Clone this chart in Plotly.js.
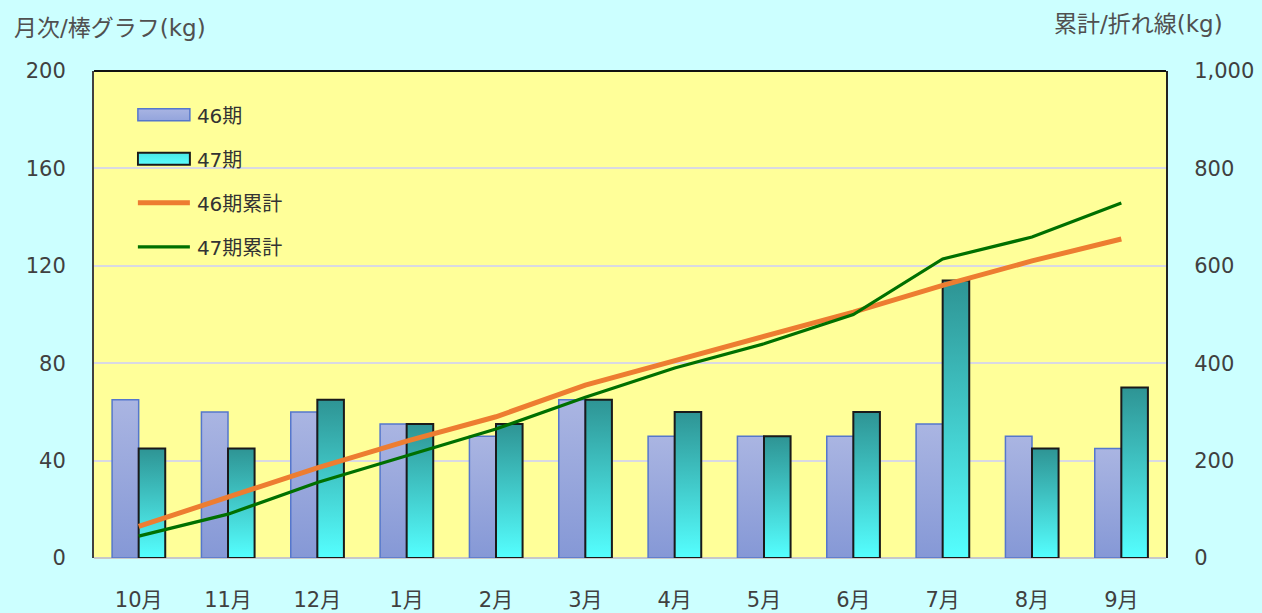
<!DOCTYPE html>
<html><head><meta charset="utf-8">
<script src="https://cdn.plot.ly/plotly-3.0.1.min.js"></script>
<style>html,body{margin:0;padding:0;background:#ccffff;} #chart{width:1262px;height:613px;}</style>
</head><body><div id="chart"></div>
<script>
const months = ['10月','11月','12月','1月','2月','3月','4月','5月','6月','7月','8月','9月'];
const monthly46 = [65,60,60,55,50,65,50,50,50,55,50,45];
const monthly47 = [45,45,65,55,55,65,60,50,60,114,45,70];
const cumulative46 = [65,125,185,240,290,355,405,455,505,560,610,655];
const cumulative47 = [45,90,155,210,265,330,390,440,500,614,659,729];
const seriesNames = ['46期','47期','46期累計','47期累計'];
const leftTitle = '月次/棒グラフ(kg)';
const rightTitle = '累計/折れ線(kg)';

const FONT = "'DejaVu Sans', 'Noto Sans CJK JP', sans-serif";

const data = [
  {type:'bar', name:seriesNames[0], x:months, y:monthly46, legendgroup:'a',
   marker:{color:'#9aa8dc', line:{color:'#5577cc', width:1.5}}},
  {type:'bar', name:seriesNames[1], x:months, y:monthly47, legendgroup:'b',
   marker:{color:'#44cccc', line:{color:'#1a1a1a', width:2}}},
  {type:'scatter', mode:'lines', name:seriesNames[2], x:months, y:cumulative46, yaxis:'y2', legendgroup:'c',
   line:{color:'#ed7d31', width:5}},
  {type:'scatter', mode:'lines', name:seriesNames[3], x:months, y:cumulative47, yaxis:'y2', legendgroup:'d',
   line:{color:'#007000', width:3.2}}
];

const layout = {
  width:1262, height:613,
  paper_bgcolor:'#ccffff', plot_bgcolor:'#ffff99',
  margin:{l:94, r:96, t:71, b:55},
  font:{family:FONT, size:20, color:'#404040'},
  barmode:'group', bargap:0.405, bargroupgap:0,
  showlegend:true,
  legend:{x:0.04, y:0.95, xanchor:'left', yanchor:'top', bgcolor:'rgba(0,0,0,0)',
          font:{size:20, color:'#333333', family:FONT}, tracegroupgap:15, itemwidth:50, traceorder:'grouped'},
  xaxis:{type:'category', tickfont:{size:21}, ticks:'', ticklabelstandoff:27, showline:false, showgrid:false, fixedrange:true},
  yaxis:{range:[0,200], dtick:40, tick0:0, gridcolor:'#d9d9e3', gridwidth:2,
         zeroline:true, zerolinecolor:'#c8c8c8', zerolinewidth:2,
         showline:true, linecolor:'#404040', linewidth:2, ticks:'', ticklabelstandoff:22, tickfont:{size:21}},
  yaxis2:{range:[0,1000], dtick:200, tick0:0, overlaying:'y', side:'right', showgrid:false, zeroline:false,
          showline:true, linecolor:'#222222', linewidth:2, tickformat:',', ticks:'', ticklabelstandoff:22, tickfont:{size:21}},
  shapes:[{type:'line', xref:'paper', yref:'paper', x0:0, x1:1, y0:1, y1:1, line:{color:'#111111', width:2}}],
  annotations:[
    {text:leftTitle, xref:'paper', yref:'paper', x:(12-94)/1072, xanchor:'left', y:1+(71-28)/487, yanchor:'middle',
     showarrow:false, font:{size:23, color:'#505050', family:FONT}},
    {text:rightTitle, xref:'paper', yref:'paper', x:(1052-94)/1072, xanchor:'left', y:1+(71-24)/487, yanchor:'middle',
     showarrow:false, font:{size:23, color:'#505050', family:FONT}}
  ]
};

Plotly.newPlot('chart', data, layout, {staticPlot:true}).then(gd => {
  try {
    const NS = 'http://www.w3.org/2000/svg';
    const svg = gd.querySelector('.main-svg');
    let defs = svg.querySelector('defs');
    if (!defs) { defs = document.createElementNS(NS,'defs'); svg.insertBefore(defs, svg.firstChild); }
    function grad(id, top, bottom) {
      const g = document.createElementNS(NS,'linearGradient');
      g.setAttribute('id', id);
      g.setAttribute('x1','0'); g.setAttribute('y1','0'); g.setAttribute('x2','0'); g.setAttribute('y2','1');
      [[0,top],[1,bottom]].forEach(([o,c]) => {
        const s = document.createElementNS(NS,'stop');
        s.setAttribute('offset', o); s.setAttribute('stop-color', c);
        g.appendChild(s);
      });
      defs.appendChild(g);
    }
    grad('g46', '#aab5e2', '#8598d6');
    grad('g47', '#2e9494', '#55ffff');
    grad('l46', '#a8b4e2', '#93a4dc');
    grad('l47', '#48e6e6', '#5cffff');
    const traces = gd.querySelectorAll('.barlayer .trace');
    const ids = ['g46','g47'];
    traces.forEach((t,i) => {
      t.querySelectorAll('.point path').forEach(p => { p.style.fill = 'url(#' + ids[i] + ')'; });
    });
    const legItems = gd.querySelectorAll('.legend .traces');
    legItems.forEach((it, i) => {
      if (i < 2) {
        it.querySelectorAll('.legendpoints path').forEach(p => {
          p.setAttribute('d', 'M1,-6h52v12h-52Z');
          p.setAttribute('transform', 'translate(0,0)');
          p.style.fill = 'url(#' + (i === 0 ? 'l46' : 'l47') + ')';
        });
      } else {
        it.querySelectorAll('.legendlines path').forEach(p => {
          p.setAttribute('d', 'M1,0h52');
        });
      }
    });
  } catch (e) { console.log(e); }
});
</script>
</body></html>
